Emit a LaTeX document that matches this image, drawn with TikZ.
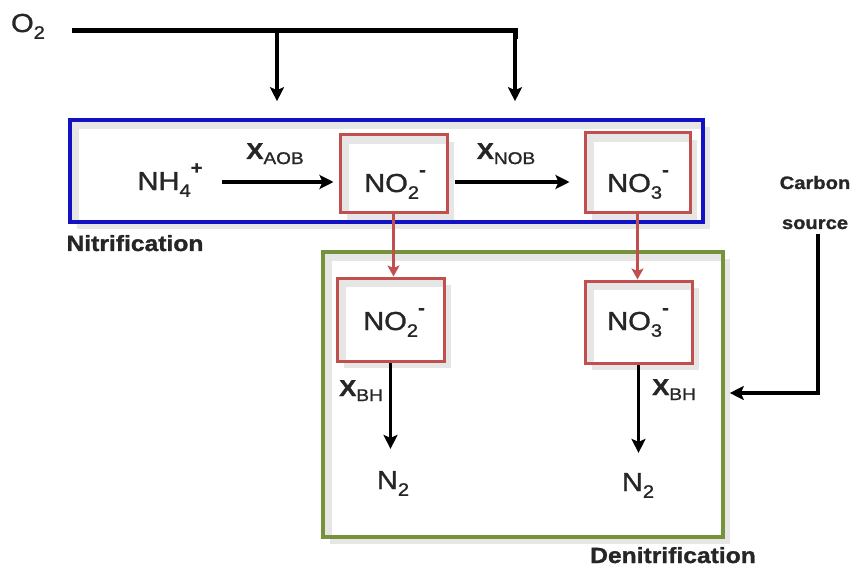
\documentclass[tikz,border=0pt]{standalone}
\usepackage{fontspec}
\setmainfont[FakeStretch=1.12,FakeBold=1.2]{Liberation Sans}
\usetikzlibrary{arrows.meta}
\definecolor{txt}{HTML}{262626}
\definecolor{nitblue}{HTML}{1212C4}
\definecolor{boxred}{HTML}{C0504D}
\definecolor{denigreen}{HTML}{76923C}
\definecolor{shadowgray}{HTML}{E6E6E6}
% chemistry-style sub/superscripts
\newcommand\lo[1]{\raisebox{-0.26em}{\fontsize{18}{18}\selectfont #1}}
\newcommand\hi[1]{\raisebox{0.62em}{\fontsize{18}{18}\selectfont\bfseries #1}}
\newcommand\los[1]{\raisebox{-0.22em}{\fontsize{17}{17}\selectfont #1}}
\begin{document}
\begin{tikzpicture}[x=1pt,y=-1pt,
  every node/.style={text=txt, inner sep=0pt},
  big/.style={font=\fontsize{26}{30}\selectfont, anchor=base},
  bug/.style={font=\fontsize{23}{26}\selectfont, anchor=base},
  tag/.style={font=\fontsize{22}{26}\selectfont\bfseries, anchor=base},
  small/.style={font=\fontsize{18}{22}\selectfont\bfseries, anchor=base},
  panel/.style={draw=#1, line width=3.6pt, fill=white,
    preaction={fill=shadowgray, transform canvas={shift={(7pt,-7pt)}}},
    path picture={
      \fill[shadowgray] (path picture bounding box.south west) rectangle (path picture bounding box.north east);
      \fill[white] ([xshift=9pt,yshift=-9pt]path picture bounding box.north west) rectangle (path picture bounding box.south east);
    }},
  arr/.style={line width=3.2pt, draw=black, -{Stealth[length=14pt,width=14pt,inset=3pt]}},
  redarr/.style={line width=2.4pt, draw=boxred, -{Stealth[length=11pt,width=12pt,inset=2.5pt]}},
  feed/.style={line width=5pt, draw=black, line join=miter}
]
\useasboundingbox (0,0) rectangle (852,567);

% process panels
\node[panel=nitblue, minimum width=633pt, minimum height=102pt] (nit) at (386.5,171) {};
\node[panel=denigreen, minimum width=400pt, minimum height=285pt] (deni) at (523,394.5) {};

% species boxes
\node[panel=boxred, line width=3pt, minimum width=107pt, minimum height=78pt] (no2a) at (393.5,174) {};
\node[panel=boxred, line width=3pt, minimum width=105pt, minimum height=80pt] (no3a) at (637.5,173) {};
\node[panel=boxred, line width=3pt, minimum width=107pt, minimum height=83pt] (no2b) at (390.5,319.5) {};
\node[panel=boxred, line width=3pt, minimum width=107pt, minimum height=82pt] (no3b) at (638.5,322) {};

% species labels (placed by baseline)
\node[big] (nh4) at (170,190) {NH\lo{4}\hi{+}};
\node[big] (no2at) at (395,192) {NO\lo{2}\hi{-}};
\node[big] (no3at) at (638,192) {NO\lo{3}\hi{-}};
\node[big] (no2bt) at (394,330) {NO\lo{2}\hi{-}};
\node[big] (no3bt) at (638,330) {NO\lo{3}\hi{-}};
\node[big] (n2a) at (393,489) {N\lo{2}};
\node[big] (n2b) at (638,491) {N\lo{2}};
\node[big] (o2) at (28,32) {O\lo{2}};

% organism labels
\node[bug] (xaob) at (275,159) {\textbf{X}\los{AOB}};
\node[bug] (xnob) at (506,159) {\textbf{X}\los{NOB}};
\node[bug] (xbha) at (361,396) {\textbf{X}\los{BH}};
\node[bug] (xbhb) at (674,395) {\textbf{X}\los{BH}};

% panel titles
\node[tag] (nittitle) at (135,251) {Nitrification};
\node[tag] (denititle) at (673,563) {Denitrification};
\node[small] (carbon) at (815,189) {Carbon};
\node[small] (source) at (815,229) {source};

% oxygen supply
\coordinate (oa) at (277,31);
\coordinate (ob) at (515,31);
\draw[feed] (72,31) -- (ob) -- ([yshift=-8pt]ob);
\draw[arr, line width=3.6pt, shorten >=17pt] ([yshift=-2pt]oa) -- (oa |- nit.north);
\draw[arr, line width=3.6pt, shorten >=17pt] ([yshift=-6pt]ob) -- (ob |- nit.north);

% nitrification steps
\draw[arr, shorten >=5pt] (222,182) -- (no2a.west |- 0,182);
\draw[arr, shorten >=14pt] ([xshift=6pt]no2a.east |- 0,182) -- (no3a.west |- 0,182);

% transfer to denitrification
\draw[redarr] (no2a.south) -- (no2a.south |- no2b.north);
\draw[redarr] (no3a.south) -- (no3a.south |- no3b.north);

% denitrification steps
\draw[arr, shorten >=22pt] (no2b.south) -- (no2b.south |- n2a.north);
\draw[arr, shorten >=20pt] (no3b.south) -- (no3b.south |- n2b.north);

% carbon dosing
\coordinate (cs) at (818,393);
\draw[arr, shorten >=5pt] ([xshift=3pt,yshift=-5pt]source.south) -- (cs) -- (deni.east |- cs);
\end{tikzpicture}
\end{document}
